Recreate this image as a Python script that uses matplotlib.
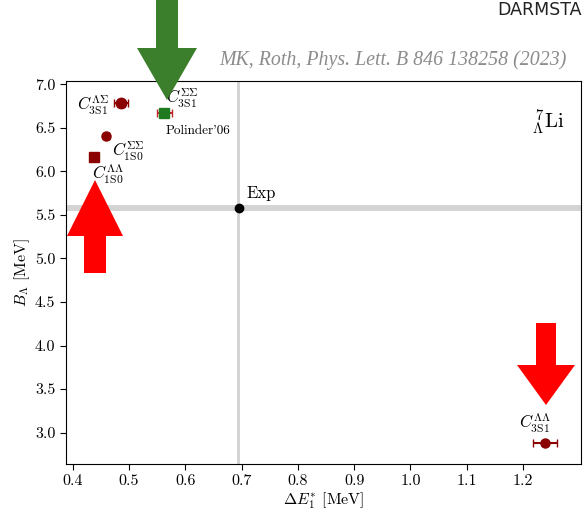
import numpy as np
import matplotlib
matplotlib.use("Agg")
import matplotlib.pyplot as plt
from matplotlib.patches import Polygon

plt.rcParams['font.family'] = 'serif'
plt.rcParams['font.serif'] = ['cmr10']
plt.rcParams['mathtext.fontset'] = 'cm'
plt.rcParams['axes.formatter.use_mathtext'] = True
plt.rcParams['axes.unicode_minus'] = False

# interaction variants (label, dE, B_Lambda, dE error, B error, marker)
labels = [r'$C^{\Lambda\Lambda}_{1\mathrm{S}0}$', r'$C^{\Sigma\Sigma}_{1\mathrm{S}0}$',
          r'$C^{\Lambda\Sigma}_{3\mathrm{S}1}$', r'$C^{\Lambda\Lambda}_{3\mathrm{S}1}$']
dE = [0.438, 0.460, 0.486, 1.239]
BL = [6.16, 6.40, 6.78, 2.88]
dE_err = [0.004, 0.004, 0.012, 0.021]
BL_err = [0.02, 0.02, 0.04, 0.02]
markers = ['s', 'o', 'o', 'o']
msizes = [7, 6.5, 7.5, 6.5]

# Polinder'06 reference point
pol_dE, pol_BL, pol_err = 0.563, 6.667, 0.013

# experiment
exp_dE, exp_BL = 0.695, 5.58
exp_dE_err, exp_BL_err = 0.003, 0.035

xticks = [0.4, 0.5, 0.6, 0.7, 0.8, 0.9, 1.0, 1.1, 1.2]
yticks = [3.0, 3.5, 4.0, 4.5, 5.0, 5.5, 6.0, 6.5, 7.0]

W, H = 586, 513
fig = plt.figure(figsize=(W/100, H/100), dpi=100)
ax = fig.add_axes([65.7/W, 1-464/H, (581-65.7)/W, (464-80.7)/H])

grey = '#d4d4d4'
ax.axvspan(exp_dE-exp_dE_err, exp_dE+exp_dE_err, color=grey, lw=0, zorder=1)
ax.axhspan(exp_BL-exp_BL_err, exp_BL+exp_BL_err, color=grey, lw=0, zorder=1)
ax.plot([exp_dE], [exp_BL], 'o', color='black', ms=6, zorder=5)
ax.text(exp_dE+0.013, exp_BL+0.08, 'Exp', fontsize=12, ha='left', va='bottom')

dark = '#8b0000'
for i in range(len(dE)):
    ax.errorbar(dE[i], BL[i], xerr=dE_err[i], yerr=BL_err[i], fmt=markers[i],
                color=dark, ms=msizes[i], capsize=3, elinewidth=1.5, zorder=4)

ax.errorbar(pol_dE, pol_BL, xerr=pol_err, fmt='s', color='#1f7a1f', ms=7,
            ecolor='#c0262c', capsize=3, elinewidth=1.5, zorder=4)

# labels near points
ax.text(dE[0]-0.004, BL[0]-0.06, labels[0], fontsize=12, ha='left', va='top')
ax.text(dE[1]+0.01, BL[1]-0.04, labels[1], fontsize=12, ha='left', va='top')
ax.text(dE[2]-0.022, BL[2]-0.02, labels[2], fontsize=12, ha='right', va='center')
ax.text(dE[3]-0.047, BL[3]+0.09, labels[3], fontsize=12, ha='left', va='bottom')
ax.text(pol_dE+0.002, pol_BL+0.04, r'$C^{\Sigma\Sigma}_{3\mathrm{S}1}$', fontsize=12,
        ha='left', va='bottom')
ax.text(pol_dE+0.002, pol_BL-0.14, "Polinder'06", fontsize=9.5, ha='left', va='top')

ax.text(0.936, 0.892, r'$^{\,7}_{\Lambda}\mathrm{Li}$', transform=ax.transAxes,
        fontsize=15, ha='center', va='center')

ax.set_xlim(0.3876, 1.303)
ax.set_ylim(2.64, 7.04)
ax.set_xticks(xticks)
ax.set_yticks(yticks)
ax.set_xticklabels(['%.1f' % v for v in xticks])
ax.set_yticklabels(['%.1f' % v for v in yticks])
ax.tick_params(labelsize=11.5, direction='out', length=4)
ax.set_xlabel(r'$\Delta E^{*}_{1}$ [MeV]', fontsize=11.5, labelpad=2)
ax.set_ylabel(r'$B_{\Lambda}$ [MeV]', fontsize=11.5, labelpad=2)

fig.text(567/W, 1-60/H, 'MK, Roth, Phys. Lett. B 846 138258 (2023)',
         family='Liberation Serif', style='italic', color='#8c8c8c',
         fontsize=14.3, ha='right', va='center')
fig.text(497/W, 1-10/H, 'DARMSTA', family='DejaVu Sans', color='#222222',
         fontsize=12.5, ha='left', va='center')


def arrow(tip_x, tip_y, tail_y, shaft_w, head_w, head_len, color):
    # block arrow in pixel coordinates (y downward)
    d = 1 if tail_y > tip_y else -1
    base = tip_y + d*head_len
    pts = [(tip_x, tip_y), (tip_x+head_w/2, base), (tip_x+shaft_w/2, base),
           (tip_x+shaft_w/2, tail_y), (tip_x-shaft_w/2, tail_y),
           (tip_x-shaft_w/2, base), (tip_x-head_w/2, base)]
    pts = [(x/W, 1-y/H) for x, y in pts]
    fig.patches.append(Polygon(pts, closed=True, color=color, lw=0,
                               transform=fig.transFigure, zorder=10))


arrow(167, 100, -5, 22, 60, 52, '#3b7f2c')
arrow(95, 180, 273, 22, 56, 56, '#ff0000')
arrow(546, 405, 323, 20, 58, 40, '#ff0000')

fig.savefig('out.png', dpi=100)
